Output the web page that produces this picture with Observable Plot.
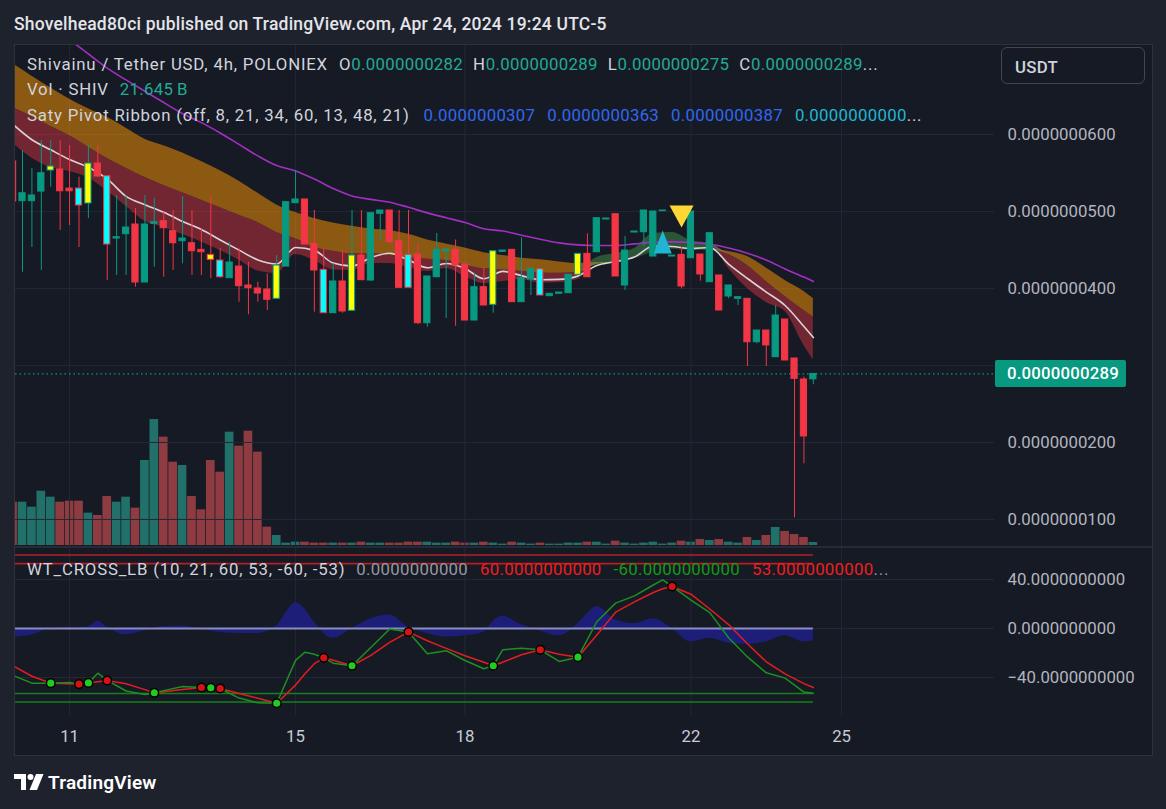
<!DOCTYPE html>
<html>
<head>
<meta charset="utf-8">
<title>Shivainu / Tether USD, 4h</title>
<script src="https://cdn.jsdelivr.net/npm/d3@7"></script>
<script src="https://cdn.jsdelivr.net/npm/@observablehq/plot@0.6"></script>
<style>
html,body{margin:0;padding:0;background:#1e222d;}
#root{position:relative;width:1166px;height:809px;overflow:hidden;background:#1e222d;font-family:Roboto,"Noto Sans","DejaVu Sans",sans-serif;}
#frame{position:absolute;left:14px;top:44px;width:1139px;height:712px;box-sizing:border-box;border:1px solid #2e323d;background:#161a25;}
.layer{position:absolute;left:0;width:1166px;}
.layer svg{display:block;overflow:visible;}
.txt{position:absolute;white-space:pre;}
#sep{position:absolute;left:15px;top:546px;width:1137px;height:2px;background:#262a35;}
#usdt{position:absolute;left:1001px;top:47px;width:144px;height:37px;box-sizing:border-box;border:1px solid #434651;border-radius:6px;}
#lastbox{position:absolute;left:995px;top:360px;width:131px;height:27px;background:#089981;border-radius:2px;}
#logo{position:absolute;left:14px;top:774px;}
</style>
</head>
<body>
<div id="root">
  <div id="frame"></div>
  <div id="sep"></div>
</div>
<script>
// ---------------- DATA (prices in units of 1e-9 USDT, volume in billions SHIV) ----------------
const bars = d3.range(-1, 85); // 4h bar index, -1 is the partially visible first bar
const open  = [56.5,51.34,51.34,52.59,55.32,55.45,52.98,52.98,51.04,56.23,54.58,46.49,47.05,48.31,40.78,48.40,48.74,47.44,46.14,45.88,45.02,44.37,43.63,41.34,42.85,40.39,40.00,39.87,38.66,42.85,51.08,51.56,45.80,42.43,36.79,40.91,37.10,44.28,41.04,49.70,50.13,46.14,44.37,44.41,35.49,41.46,44.84,45.02,43.11,35.84,40.17,37.88,44.76,45.02,38.22,41.17,42.50,39.00,39.31,39.39,41.78,44.50,44.71,48.96,49.65,40.39,47.27,47.31,44.15,50.04,44.15,44.37,43.93,44.41,40.82,41.69,38.96,38.66,38.66,33.02,34.54,31.08,35.97,30.91,28.18,28.2];
const high  = [57.5,57.92,55.58,59.22,59.22,59.22,58.57,54.45,58.57,58.57,54.58,52.08,52.08,50.39,52.08,51.69,49.91,50.13,51.95,50.13,47.79,52.08,45.19,46.01,45.15,43.41,40.82,41.91,44.28,51.21,55.32,51.56,50.13,45.19,43.24,44.93,50.13,50.13,49.78,50.13,50.13,50.13,50.13,45.80,41.56,47.14,45.06,46.30,43.11,42.0,42.69,44.84,44.93,45.02,46.58,42.56,42.50,39.31,39.48,41.78,44.50,47.10,49.13,49.09,49.65,46.75,47.40,50.13,50.00,50.13,44.28,45.36,50.00,44.41,47.18,41.69,40.39,38.87,38.66,34.54,34.54,37.79,35.97,30.91,28.48,28.9];
const low   = [50.0,42.11,45.32,42.34,53.15,47.53,48.18,45.32,49.09,54.45,41.04,41.69,41.69,40.17,40.78,42.76,41.46,42.34,43.21,41.69,41.69,41.26,41.34,41.34,38.22,36.58,38.22,37.14,38.66,42.85,51.08,45.71,36.92,36.79,36.79,36.79,37.10,41.08,40.90,46.23,46.01,40.09,40.09,35.30,34.97,41.46,36.10,35.10,35.84,35.84,37.79,36.79,44.76,38.22,38.22,39.09,39.09,39.00,39.31,39.39,41.78,41.46,44.71,48.96,41.56,39.74,47.27,45.45,44.15,50.04,44.15,39.96,43.93,40.95,40.82,37.14,38.66,37.79,29.87,32.82,29.87,31.08,30.65,10.22,17.23,27.5];
const close = [51.3,52.37,52.08,54.97,55.84,52.63,52.63,50.78,56.23,54.54,45.71,46.66,47.92,40.78,48.31,48.61,47.83,45.88,46.49,44.84,44.71,43.72,41.46,43.37,40.30,40.04,39.35,38.53,42.98,51.21,51.56,45.71,42.34,36.79,40.91,37.01,44.28,41.08,49.78,50.13,46.01,40.09,40.09,35.49,41.56,45.02,45.06,42.98,35.84,40.17,37.79,44.84,44.93,38.22,41.34,42.56,39.09,39.31,39.48,41.78,44.50,41.46,49.13,49.09,41.56,44.93,47.40,50.13,50.00,50.13,44.28,40.26,50.00,41.82,47.18,37.14,40.39,38.87,33.02,34.54,32.60,36.49,30.65,28.27,20.78,28.9];
const volumeB = [312,312,276,391,348,312,319,319,233,216,353,312,348,269,612,907,780,600,576,353,257,612,528,816,715,823,672,132,72,17,24,24,17,17,17,17,17,24,17,17,17,17,24,24,24,17,17,24,17,17,24,17,10,24,17,10,17,10,10,17,17,24,24,10,31,17,10,17,24,10,17,31,24,43,36,43,24,17,58,36,72,130,101,79,58,21.645];
// bias-coloured candles (Saty ribbon)
const tintBars   = [3,6,7,9,20,21,27,32,35,41,50,55,59];
const tintColors = ["yellow","cyan","yellow","cyan","yellow","cyan","yellow","cyan","yellow","cyan","yellow","cyan","yellow"];
// ribbon EMAs sampled every 2 bars
const ribBars = [-1,1,3,5,7,9,11,13,15,17,19,21,23,25,27,29,31,33,35,37,39,41,43,45,47,49,51,53,55,57,59,61,63,65,67,69,71,73,75,77,79,81,83,84];
const ema8  = [58.83,56.93,55.71,55.19,54.36,52.66,50.67,48.72,47.92,47.01,46.05,44.93,43.69,42.26,41.95,44.41,43.63,42.4,42.34,43.24,43.24,42.73,42.21,42.6,41.56,40.65,40.92,41.17,40.7,40.78,41.17,44.02,44.54,45.19,47.14,47.27,46.23,45.84,42.6,40.0,38.18,37.01,32.6,30.7];
const ema13 = [61.3,59.32,58.01,56.75,55.75,54.24,51.97,50.89,49.91,48.7,47.66,46.3,44.98,43.71,43.18,45.32,44.95,43.3,42.91,44.01,44.58,43.7,42.69,43.24,42.6,41.26,42.22,41.67,41.14,41.18,41.63,42.98,43.5,44.08,45.52,45.45,45.19,45.32,43.17,41.3,39.54,37.79,35.06,33.63];
const ema21 = [63.48,62.32,61.05,59.84,58.35,56.88,55.61,54.4,53.39,52.44,51.47,50.5,49.5,48.57,47.27,46.45,45.33,44.85,44.5,44.5,44.32,44.0,43.8,43.65,43.05,42.53,42.4,42.23,42.0,41.97,42.1,43.11,43.37,43.89,44.93,45.19,45.06,45.06,44.41,42.98,40.91,38.96,37.14,36.3];
const ema34 = [69.15,67.58,66.05,64.58,63.34,62.23,60.82,59.39,58.53,57.61,56.5,55.3,53.93,52.37,50.86,49.87,49.09,48.5,48.08,47.73,47.54,47.04,46.3,45.78,45.25,44.65,44.3,43.93,43.72,43.44,43.24,43.37,43.37,43.89,44.67,45.06,44.93,44.93,44.8,44.15,42.66,41.04,39.61,38.7];
const ema60 = [77.79,75.97,74.13,72.3,70.46,68.63,67.09,65.62,64.15,62.71,61.54,60.19,58.71,57.22,55.96,55.26,54.21,52.98,52.02,51.57,51.21,50.54,49.82,49.19,48.57,47.75,47.47,46.92,46.4,45.92,45.66,45.58,45.58,45.79,46.02,46.06,45.97,45.74,45.27,44.59,43.69,42.54,41.48,40.91];
const upSignalBars = [68],   upSignalPrice = [45.97];
const downSignalBars = [70], downSignalPrice = [49.35];
const priceTicks = [60,50,40,30,20,10];
const dayTickBars = [5,29,47,71,87];
const dayLabels = ["11","15","18","22","25"];
// WT_CROSS_LB
const wtBars = [-1,1,3,5,6,7,8,9,11,13,14,15,17,19,20,21,23,25,27,29,30,31,32,33,35,37,39,41,43,45,47,49,50,51,53,55,57,59,61,63,65,67,68,69,71,73,75,77,79,81,83,84];
const wt1 = [-38.4,-44.6,-44.6,-44.1,-45.4,-44.4,-36.5,-42.4,-51,-53.8,-52.5,-50.7,-47.3,-48.2,-48.4,-49,-56.8,-60.7,-61,-26,-19.3,-21,-23.9,-28.3,-30.4,-15.5,-0.4,-2.8,-20.7,-18.1,-26.1,-32.9,-30.4,-17.4,-16.1,-17.4,-26.9,-23.4,5.5,20.7,26.6,35.5,39.7,34.3,23.1,13,-7.5,-23.2,-36.2,-40.5,-51.9,-52.8];
const wt2 = [-30.5,-39,-44.6,-45.1,-45.4,-44.4,-43.4,-42.4,-45.1,-49.9,-52.5,-51.7,-49.8,-48.2,-48.4,-49,-53,-57,-61,-46.2,-37,-28.7,-23.9,-25.9,-30.4,-22,-11.3,-2.8,-10,-16.2,-22.2,-27.6,-30.4,-27.5,-21.4,-17.4,-21,-23.4,-5.3,13.3,21.8,29.4,32.5,34.3,28,15.9,3.2,-12.4,-27.2,-37.1,-45,-48.2];
const histBars = [-1,1,3,5,7,8,9,11,13,15,17,19,21,23,25,27,28,29,30,31,33,35,37,39,41,43,45,47,49,50,51,53,55,57,59,60,61,63,65,67,69,71,73,75,77,79,81,83,84];
const hist = [-7,-5.3,0,0.6,1.5,6,1,-5.2,-1.8,1.6,1.9,-0.5,-3.2,-4,-4,2,13,21,16,5,-8,0,8,11,1,-4,-7,-6,-3,6,10,3,-2,-6,4,12,18,7,4,8,0,-11,-8,-12,-13,-11,-6,-11,-10];
const crossBars   = [3,6,7,9,14,19,20,21,27,32,35,41,50,55,59,69];
const crossValues = [-44.6,-45.4,-44.4,-42.4,-52.5,-48.2,-48.4,-49,-61,-23.9,-30.4,-2.8,-30.4,-17.4,-23.4,34.3];
const crossUp     = [true,false,true,false,true,false,true,false,true,false,true,false,true,false,true,false];
const wtLevels = [60,53,-53,-60];
const wtLevelColors = ["#b81f24","#b81f24","#16801a","#16801a"];
const wtTicks = [40,0,-40];
const wtLegendValues = [0,60,-60,53];

// ---------------- helpers ----------------
const GREEN = "#089981", RED = "#f23645";
const fmtP = v => (v * 1e-9).toFixed(10);
const fmtWT = v => v.toFixed(10).replace("-", "\u2212");
const tintMap = new Map(tintBars.map((b, k) => [b, tintColors[k]]));
const candles = bars.map((b, k) => ({b, o: open[k], h: high[k], l: low[k], c: close[k], v: volumeB[k], up: close[k] >= open[k], tint: tintMap.get(b)}));
const rib = ribBars.map((b, k) => ({b, e8: ema8[k], e13: ema13[k], e21: ema21[k], e34: ema34[k], e60: ema60[k]}));
const upSignals = upSignalBars.map((b, k) => ({b, p: upSignalPrice[k]}));
const downSignals = downSignalBars.map((b, k) => ({b, p: downSignalPrice[k]}));
const wtT = wtBars.map((b, k) => ({b, w1: wt1[k], w2: wt2[k]}));
const histT = histBars.map((b, k) => ({b, h: hist[k]}));
const crossT = crossBars.map((b, k) => ({b, v: crossValues[k], up: crossUp[k]}));
const levelT = wtLevels.map((v, k) => ({v, c: wtLevelColors[k]}));
const firstBar = bars[0], lastBar = bars[bars.length - 1];
const last = candles[candles.length - 1];
// the price scale hides a tick label that would sit under the last-price label
const shownPriceLabels = priceTicks.filter(t => Math.abs(t - last.c) > 3);

const triUp = {draw(ctx, size) { const r = Math.sqrt(size / Math.PI); ctx.moveTo(0, -1.2 * r); ctx.lineTo(0.9 * r, 1.1 * r); ctx.lineTo(-0.9 * r, 1.1 * r); ctx.closePath(); }};
const triDown = {draw(ctx, size) { const r = Math.sqrt(size / Math.PI); ctx.moveTo(-1.2 * r, -1.1 * r); ctx.lineTo(1.2 * r, -1.1 * r); ctx.lineTo(0, 1.1 * r); ctx.closePath(); }};

const XD = [-0.7435, 103.24];
const GRID = "#242835";
const common = {width: 1166, marginLeft: 15, marginRight: 172, marginTop: 0,
  style: {background: "transparent", color: "#b2b5be", fontFamily: "Roboto, 'Noto Sans', sans-serif", fontSize: "16.8px", overflow: "visible"}};
const HW = 0.33;
const root = document.getElementById("root");
function layer(top, node) { const d = document.createElement("div"); d.className = "layer"; d.style.top = top + "px"; d.appendChild(node); root.appendChild(d); }

// ---------------- volume (behind price) ----------------
const volPlot = Plot.plot({...common, height: 140, marginBottom: 0,
  x: {domain: XD, axis: null}, y: {domain: [0, 1008], axis: null},
  marks: [
    Plot.rect(candles, {x1: d => d.b - 0.46, x2: d => d.b + 0.46, y1: 0, y2: "v", fill: d => d.up ? "#22706a" : "#8e3c41", clip: true})
  ]});
layer(405, volPlot);

// ---------------- price pane ----------------
const pricePlot = Plot.plot({...common, height: 501, marginBottom: 0,
  x: {domain: XD, axis: null}, y: {domain: [6.49, 71.56]},
  marks: [
    Plot.gridY(priceTicks, {stroke: GRID, strokeOpacity: 1}),
    Plot.gridX(dayTickBars, {stroke: GRID, strokeOpacity: 1}),
    Plot.axisY(shownPriceLabels, {anchor: "right", tickSize: 0, tickPadding: 13, tickFormat: fmtP, fill: "#b2b5be", label: null}),
    Plot.areaY(rib, {x: "b", y1: "e21", y2: d => Math.max(d.e21, d.e34), fill: "#ff9800", fillOpacity: 0.5, curve: "monotone-x", clip: true}),
    Plot.areaY(rib, {x: "b", y1: "e34", y2: d => Math.max(d.e34, d.e21), fill: "#4caf50", fillOpacity: 0.3, curve: "monotone-x", clip: true}),
    Plot.areaY(rib, {x: "b", y1: "e8", y2: d => Math.max(d.e8, d.e21), fill: "#f23645", fillOpacity: 0.42, curve: "monotone-x", clip: true}),
    Plot.areaY(rib, {x: "b", y1: "e21", y2: d => Math.max(d.e21, d.e8), fill: "#4caf50", fillOpacity: 0.4, curve: "monotone-x", clip: true}),
    Plot.line(rib, {x: "b", y: "e60", stroke: "#a22fc2", strokeWidth: 1.6, curve: "monotone-x", clip: true}),
    Plot.line(rib, {x: "b", y: "e13", stroke: "#d8d4da", strokeWidth: 1.6, curve: "monotone-x", clip: true}),
    Plot.ruleY([last.c], {stroke: GREEN, strokeDasharray: "1.5,3", strokeWidth: 1.2}),
    Plot.ruleX(candles, {x: "b", y1: "l", y2: "h", stroke: d => d.up ? GREEN : RED, strokeWidth: 1, clip: true}),
    Plot.rect(candles, {x1: d => d.b - HW, x2: d => d.b + HW, y1: d => Math.min(d.o, d.c), y2: d => Math.max(d.o, d.c),
      fill: d => d.tint ?? (d.up ? GREEN : RED), stroke: d => d.up ? GREEN : RED, strokeWidth: 1, clip: true}),
    Plot.dot(upSignals, {x: "b", y: "p", r: 10, symbol: triUp, fill: "#1fb6d6", stroke: "none"}),
    Plot.dot(downSignals, {x: "b", y: "p", r: 10, symbol: triDown, fill: "#fdd835", stroke: "none"})
  ]});
layer(45, pricePlot);

// ---------------- WT pane + time axis ----------------
const wtPlot = Plot.plot({...common, height: 207, marginBottom: 40,
  x: {domain: XD}, y: {domain: [-71.02, 65.31]},
  marks: [
    Plot.gridY(wtTicks, {stroke: GRID, strokeOpacity: 1}),
    Plot.gridX(dayTickBars, {stroke: GRID, strokeOpacity: 1}),
    Plot.axisY(wtTicks, {anchor: "right", tickSize: 0, tickPadding: 13, tickFormat: fmtWT, fill: "#b2b5be", label: null}),
    Plot.axisX(dayTickBars, {anchor: "bottom", tickSize: 0, tickPadding: 15, tickFormat: d => dayLabels[dayTickBars.indexOf(d)], fill: "#c8cbd2", label: null}),
    Plot.areaY(histT, {x: "b", y: "h", fill: "#1c1f7c", fillOpacity: 0.95, curve: "monotone-x", clip: true}),
    Plot.ruleY(levelT, {y: "v", x1: firstBar, x2: lastBar, stroke: "c", strokeWidth: 1.6, clip: true}),
    Plot.ruleY([0], {x1: firstBar, x2: lastBar, stroke: "#8a8dc4", strokeWidth: 2, clip: true}),
    Plot.line(wtT, {x: "b", y: "w2", stroke: "#e21e1e", strokeWidth: 1.5, clip: true}),
    Plot.line(wtT, {x: "b", y: "w1", stroke: "#1f8f1f", strokeWidth: 1.5, clip: true}),
    Plot.dot(crossT, {x: "b", y: "v", r: 4.3, fill: d => d.up ? "#1fcc1f" : "#d41414", stroke: "#000", strokeWidth: 1.5})
  ]});
layer(548, wtPlot);

// ---------------- text overlays ----------------
const LS_TEXT = 0.8, LS_NUM = 0.3;
function textRow(left, baseline, fs, parts, weight, ls) {
  const d = document.createElement("div");
  d.className = "txt";
  d.style.left = left + "px";
  d.style.top = (baseline - 0.84 * fs) + "px";
  d.style.fontSize = fs + "px";
  d.style.lineHeight = fs + "px";
  if (weight) d.style.fontWeight = weight;
  for (const [t, c, ml, lsp] of parts) {
    const s = document.createElement("span");
    s.textContent = t; s.style.color = c;
    if (ml) s.style.marginLeft = ml + "px";
    const l = lsp ?? ls;
    if (l) s.style.letterSpacing = l + "px";
    d.appendChild(s);
  }
  root.appendChild(d);
  return d;
}
const GREY = "#d1d4dc", TEAL = "#22ab94", BLUE = "#3068f2", CYAN = "#1fb8d3";
const lastRib = rib[rib.length - 1];
textRow(14, 31, 17.5, [["Shovelhead80ci published on TradingView.com, Apr 24, 2024 19:24 UTC-5", "#e3e5ea"]], 500, 0.2);
textRow(27, 70, 16.8, [["Shivainu / Tether USD, 4h, POLONIEX", GREY, 0, LS_TEXT], ["O", GREY, 11, LS_TEXT], [fmtP(last.o), TEAL, 0, LS_NUM], ["H", GREY, 10, LS_TEXT], [fmtP(last.h), TEAL, 0, LS_NUM],
  ["L", GREY, 10, LS_TEXT], [fmtP(last.l), TEAL, 0, LS_NUM], ["C", GREY, 10, LS_TEXT], [fmtP(last.c), TEAL, 0, LS_NUM], ["...", GREY, 0, LS_TEXT]]);
textRow(27, 95, 16.8, [["Vol \u00b7 SHIV", GREY, 0, LS_TEXT], [last.v.toFixed(3) + "\u2009B", TEAL, 11, LS_NUM]]);
textRow(27, 121.5, 16.8, [["Saty Pivot Ribbon (off, 8, 21, 34, 60, 13, 48, 21)", GREY, 0, LS_TEXT], [fmtP(lastRib.e8), BLUE, 14, LS_NUM], [fmtP(lastRib.e21), BLUE, 12, LS_NUM],
  [fmtP(lastRib.e34), BLUE, 12, LS_NUM], [fmtP(0), CYAN, 12, LS_NUM], ["...", GREY, 0, LS_TEXT]]);
textRow(27, 575, 16.8, [["WT_CROSS_LB (10, 21, 60, 53, -60, -53)", GREY, 0, LS_TEXT], [fmtWT(wtLegendValues[0]), "#9598a1", 11, LS_NUM], [fmtWT(wtLegendValues[1]), "#f01e1e", 12, LS_NUM],
  [wtLegendValues[2].toFixed(10), "#149a14", 12, LS_NUM], [fmtWT(wtLegendValues[3]), "#f01e1e", 12, LS_NUM], ["...", "#9598a1", 0, LS_TEXT]]);

// currency box
const u = document.createElement("div"); u.id = "usdt"; root.appendChild(u);
textRow(1015, 73, 16.8, [["USDT", GREY]], 500, 0.3);
// last price label
const lb = document.createElement("div"); lb.id = "lastbox"; root.appendChild(lb);
textRow(1007, 379.5, 16.8, [[fmtP(last.c), "#ffffff"]], 500, 0.2);

// TradingView logo
const logo = document.createElement("div"); logo.id = "logo";
logo.innerHTML = '<svg width="30" height="16" viewBox="0 0 30 16"><path d="M0 0h12v16H7V5H0z" fill="#ffffff"/><circle cx="16.5" cy="3" r="3" fill="#ffffff"/><path d="M22 0h7.5l-6.5 16h-7.5z" fill="#ffffff"/></svg>';
root.appendChild(logo);
textRow(48, 789, 19, [["TradingView", "#ffffff"]], 600, 0.2);
</script>
</body>
</html>
